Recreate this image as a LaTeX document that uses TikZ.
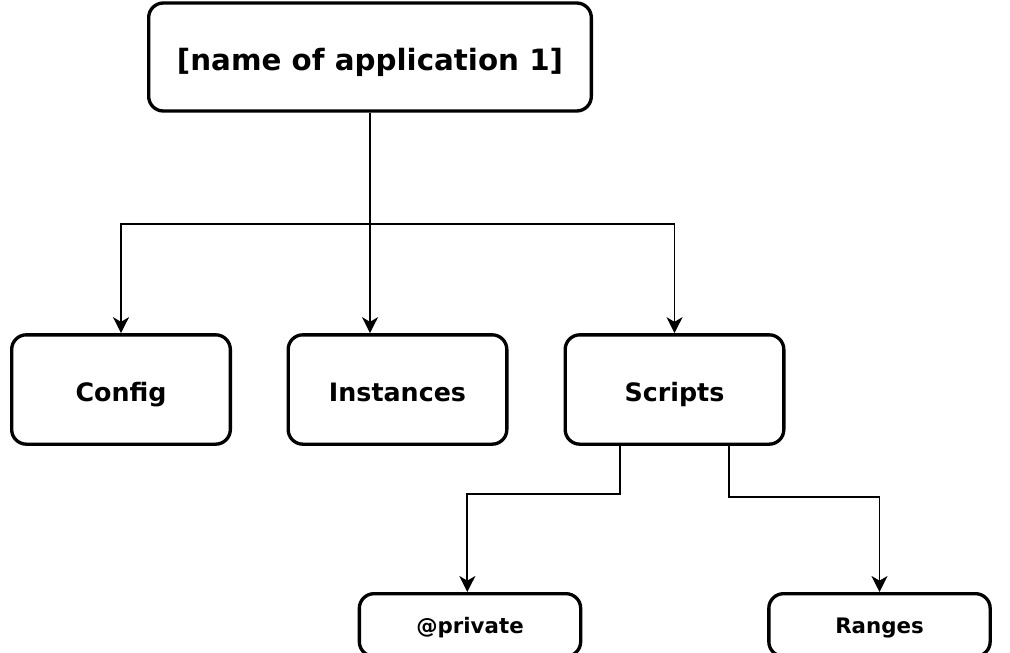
\documentclass[tikz,border=0pt]{standalone}
\usepackage{fontspec}
\setmainfont{DejaVu Sans}
\usetikzlibrary{arrows.meta}

\begin{document}
\begin{tikzpicture}[x=0.75pt,y=-0.75pt,
  box/.style={draw=black,line width=2.5pt,rounded corners=11pt,fill=white,inner sep=0pt,
    align=center,minimum width=164pt,minimum height=82pt,text depth=0pt},
  appbox/.style={box,minimum width=332pt,minimum height=81pt,text height=20pt,
    font=\bfseries\fontsize{22}{26}\selectfont},
  catbox/.style={box,text height=18.4pt,font=\bfseries\fontsize{19}{23}\selectfont},
  subbox/.style={box,minimum width=166pt,minimum height=47pt,text height=12pt,
    font=\bfseries\fontsize{16}{19}\selectfont},
  link/.style={line width=1.3pt,-{Stealth[length=12pt,width=12pt,inset=3.5pt]}}]
\useasboundingbox (0,0) rectangle (1010,653);
\clip (0,0) rectangle (1010,653);
% boxes
\node[appbox] (app) at (370,57) {[name of application 1]};
\node[catbox] (config) at (121,389.5) {Config};
\node[catbox] (inst) at (397.5,389.5) {Instances};
\node[catbox] (scripts) at (674.5,389.5) {Scripts};
\node[subbox] (private) at (470,625) {@private};
\node[subbox] (ranges) at (879.5,625) {Ranges};
% application to its parts
\coordinate (fork) at (app.south |- 0,224);
\draw[line width=1.3pt] (app.south) -- (fork);
\draw[link] (fork) -| (config.north);
\draw[link] (fork) -- (fork |- inst.north);
\draw[link] (fork) -| (scripts.north);
% scripts to its folders
\draw[link] ([xshift=-41pt]scripts.south) -- ++(0,48) -| ([xshift=-2pt]private.north);
\draw[link] ([xshift=41pt]scripts.south) -- ++(0,51) -| (ranges.north);
\end{tikzpicture}
\end{document}
